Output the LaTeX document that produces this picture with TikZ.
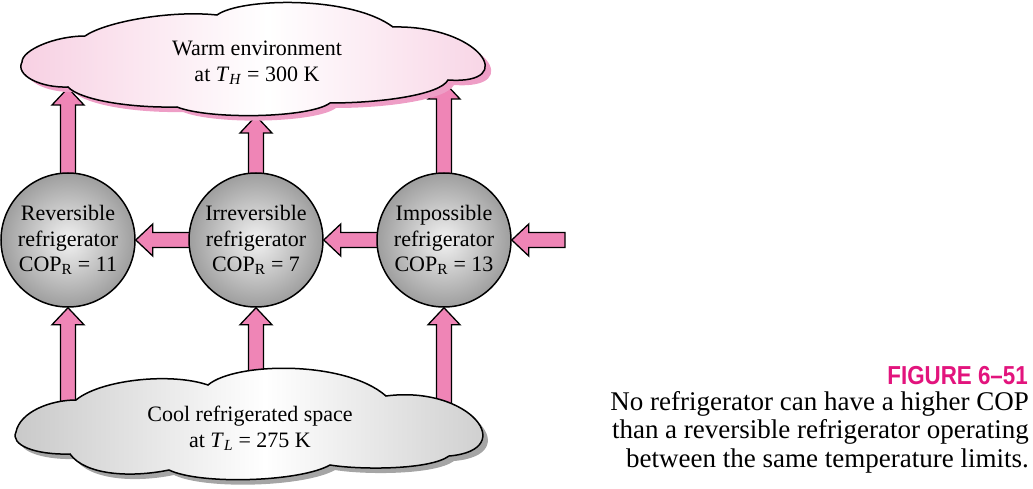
\documentclass[tikz,border=0pt]{standalone}
\usepackage{fontspec}
\setmainfont{Liberation Serif}
\newfontfamily\figfont[FakeStretch=0.86]{Liberation Sans}
\usetikzlibrary{calc}
\usetikzlibrary{positioning}
\usetikzlibrary{backgrounds}
\definecolor{arrowpink}{RGB}{239,133,182}
\definecolor{warmedge}{RGB}{247,207,226}
\definecolor{warmshadow}{RGB}{238,158,198}
\definecolor{cooledge}{RGB}{200,200,200}
\definecolor{coolshadow}{RGB}{165,165,165}
\definecolor{ballin}{RGB}{242,242,242}
\definecolor{ballout}{RGB}{158,158,158}
\definecolor{figmagenta}{RGB}{226,20,125}
\tikzset{ball/.style = {circle, draw, line width=1.5, inner sep=0, minimum size=134,
    align=center, inner color=ballin, outer color=ballout,
    font=\fontsize{22}{25.5}\selectfont}}
\tikzset{fatarrow/.style = {draw, line width=1.3, fill=arrowpink, line join=miter}}
\tikzset{cloudline/.style = {draw, line width=1.5}}
\tikzset{cloudtext/.style = {align=center, inner sep=0, font=\fontsize{22}{26}\selectfont}}
\tikzset{warm outline/.style = {insert path={(22,62) .. controls (22,50) and (55,36) .. (85,36)
    .. controls (105,22) and (170,10) .. (217,15) .. controls (240,-2) and (350,-5) .. (393,27)
    .. controls (480,25) and (520,85) .. (448,80) .. controls (440,95) and (380,103) .. (330,103)
    .. controls (310,118) and (210,120) .. (177,107) .. controls (130,108) and (80,100) .. (68,87)
    .. controls (40,88) and (15,75) .. (22,62) -- cycle}}}
\tikzset{cool outline/.style = {insert path={(16,432) .. controls (20,412) and (50,400) .. (76,400)
    .. controls (100,380) and (170,372) .. (208,385) .. controls (235,362) and (345,360) .. (386,396)
    .. controls (470,385) and (520,450) .. (449,456) .. controls (430,470) and (360,470) .. (330,465)
    .. controls (300,482) and (200,485) .. (169,470) .. controls (130,478) and (85,475) .. (70,454)
    .. controls (35,455) and (10,445) .. (16,432) -- cycle}}}
% fat block arrows, #1 = tail, #2 = tip
\newcommand{\arrowup}[2]{%
  \draw[fatarrow] ($(#1)+(-7.5,0)$) -- ($(#2)+(-7.5,17)$) -- ($(#2)+(-16,17)$)
    -- (#2) -- ($(#2)+(16,17)$) -- ($(#2)+(7.5,17)$) -- ($(#1)+(7.5,0)$) -- cycle;}
\newcommand{\arrowleft}[2]{%
  \draw[fatarrow] ($(#1)+(0,-7.5)$) -- ($(#2)+(17,-7.5)$) -- ($(#2)+(17,-16)$)
    -- (#2) -- ($(#2)+(17,16)$) -- ($(#2)+(17,7.5)$) -- ($(#1)+(0,7.5)$) -- cycle;}

\begin{document}
\begin{tikzpicture}[x=1pt, y=-1pt]
  \useasboundingbox (0,0) rectangle (1033,489);

  % refrigerators
  \node[ball] (rev) at (68,240) {Reversible\\refrigerator\\COP\textsubscript{R} = 11};
  \node[ball] (irr) at (256,240) {Irreversible\\refrigerator\\COP\textsubscript{R} = 7};
  \node[ball] (imp) at (444,240) {Impossible\\refrigerator\\COP\textsubscript{R} = 13};

  \coordinate (warm-l) at (68,88);
  \coordinate (warm-m) at (256,116);
  \coordinate (warm-r) at (444,82);
  \coordinate (cool-l) at (68,425);
  \coordinate (cool-m) at (256,390);
  \coordinate (cool-r) at (444,425);
  \coordinate (supply) at (565,240);

  \begin{scope}[on background layer]
    \arrowup{rev.center}{warm-l}
    \arrowup{irr.center}{warm-m}
    \arrowup{imp.center}{warm-r}
    \arrowup{cool-l}{rev.south}
    \arrowup{cool-m}{irr.south}
    \arrowup{cool-r}{imp.south}
    \arrowleft{supply}{imp.east}
    \arrowleft{imp.center}{irr.east}
    \arrowleft{irr.center}{rev.east}
  \end{scope}

  % reservoirs
  \fill[warmshadow, shift={(6,5)}] [warm outline];
  \path[cloudline, left color=warmedge, right color=warmedge, middle color=white] [warm outline];
  \node[cloudtext] (warm) at (257,63) {Warm environment\\at \textit{T}\textsubscript{\textit{H}} = 300 K};

  \fill[coolshadow, shift={(5,5)}] [cool outline];
  \path[cloudline, left color=cooledge, right color=cooledge, middle color=white] [cool outline];
  \node[cloudtext] (cool) at (250,428) {Cool refrigerated space\\at \textit{T}\textsubscript{\textit{L}} = 275 K};

  % caption
  \node[anchor=base east, inner sep=0, text=figmagenta, font=\figfont\bfseries\fontsize{26}{28}\selectfont]
    (fig) at (1028,384) {FIGURE 6–51};
  \node[anchor=north east, inner sep=0, align=right, font=\fontsize{27}{28.5}\selectfont]
    (caption) at (1029,391) {No refrigerator can have a higher COP\\than a reversible refrigerator operating\\between the same temperature limits.};
\end{tikzpicture}
\end{document}
